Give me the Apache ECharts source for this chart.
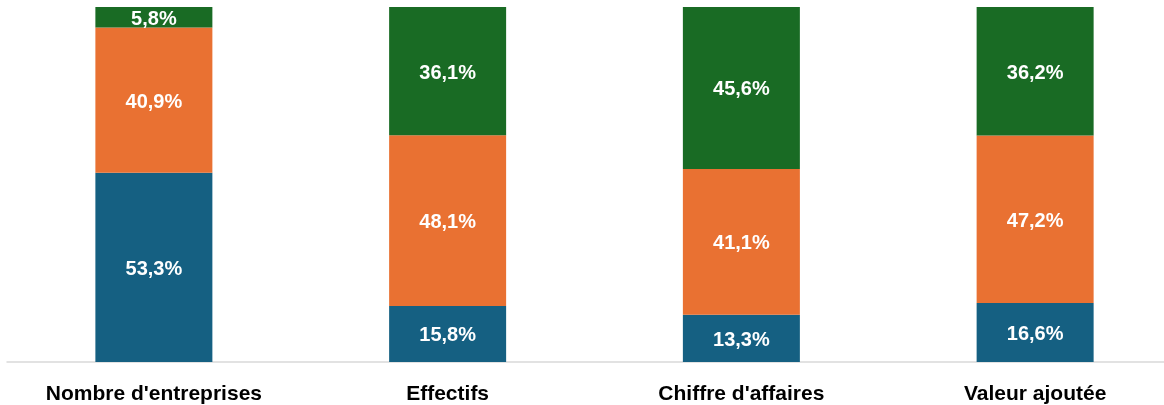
<!DOCTYPE html>
<html><head><meta charset="utf-8">
<script src="https://cdn.jsdelivr.net/npm/echarts@6/dist/echarts.min.js"></script>
<style>html,body{margin:0;padding:0;background:#fff}#c{width:1164px;height:405px}</style>
</head><body><div id="c"></div>
<script>
const categories = ["Nombre d'entreprises", "Effectifs", "Chiffre d'affaires", "Valeur ajoutée"];
const serieBleue = [53.3, 15.8, 13.3, 16.6];
const serieOrange = [40.9, 48.1, 41.1, 47.2];
const serieVerte = [5.8, 36.1, 45.6, 36.2];
const colors = ['#156082', '#E97132', '#196B24'];

const chart = echarts.init(document.getElementById('c'), null, {renderer: 'canvas'});
const lbl = {
  show: true, position: 'inside', color: '#fff', fontSize: 20, fontWeight: 'bold',
  fontFamily: '"Liberation Sans", Arial, sans-serif', offset: [0, 2],
  formatter: p => p.value.toFixed(1).replace('.', ',') + '%'
};
function mk(name, data, c) {
  return {name, type: 'bar', stack: 't', data, barWidth: 117, itemStyle: {color: c}, label: lbl, animation: false};
}
chart.setOption({
  animation: false,
  grid: {left: 7, top: 7, right: -18, bottom: 43, containLabel: false, outerBoundsMode: 'none'},
  xAxis: {type: 'category', data: categories,
    axisLine: {lineStyle: {color: '#d9d9d9', width: 1.5}}, axisTick: {show: false},
    axisLabel: {color: '#000', fontSize: 21, fontWeight: 'bold', margin: 22,
      fontFamily: '"Liberation Sans", Arial, sans-serif', interval: 0}},
  yAxis: {type: 'value', min: 0, max: 100, show: false, splitLine: {show: false}},
  series: [mk('Bleu', serieBleue, colors[0]), mk('Orange', serieOrange, colors[1]), mk('Vert', serieVerte, colors[2])]
});
</script></body></html>
